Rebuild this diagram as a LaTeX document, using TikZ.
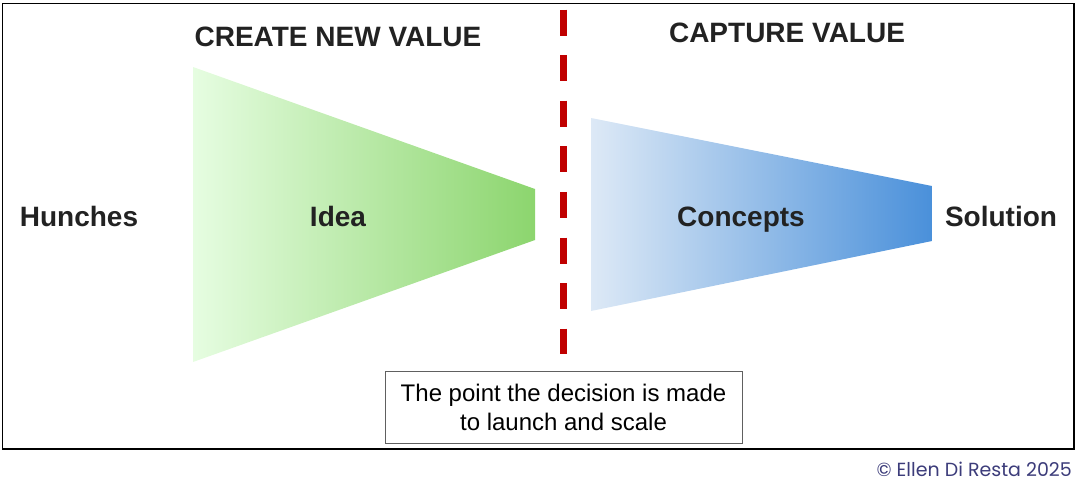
\documentclass[tikz,border=0pt]{standalone}
\usepackage{fontspec}
\setmainfont{Liberation Sans}
\newfontfamily\copyfont{Poppins}
\definecolor{lbl}{HTML}{222222}
\definecolor{gLight}{HTML}{E6FDE1}
\definecolor{gDark}{HTML}{8CD56E}
\definecolor{bLight}{HTML}{DDE9F6}
\definecolor{bDark}{HTML}{4A90DA}
\definecolor{dashred}{HTML}{C00000}
\definecolor{copyc}{HTML}{3C3C7A}
\definecolor{boxgray}{HTML}{606060}
\tikzset{
  lab/.style={font=\bfseries\fontsize{28}{32}\selectfont, text=lbl, inner sep=0pt, anchor=base},
  head/.style={font=\bfseries\fontsize{28}{32}\selectfont, text=lbl, inner sep=0pt, anchor=base},
  notebox/.style={draw=boxgray, line width=1pt, minimum width=357pt, minimum height=72pt, inner sep=0pt},
  notetext/.style={font=\fontsize{24}{29}\selectfont, align=center, inner sep=0pt, anchor=base},
}
\begin{document}
\begin{tikzpicture}[x=1pt,y=-1pt]
\useasboundingbox (0,0) rectangle (1090,498);
% frame
\draw[line width=1.6pt, black] (2.5,3.5) rectangle (1074,449);
% funnels
\shade[left color=gLight, right color=gDark] (193,67) -- (535,189) -- (535,240) -- (193,362) -- cycle;
\shade[left color=bLight, right color=bDark] (591,118) -- (932,186) -- (932,241) -- (591,311) -- cycle;
% dashed divider
\coordinate (dtop) at (563.5,9.5);
\coordinate (dbot) at (563.5,354);
\draw[dashred, line width=7pt, dash pattern=on 26pt off 19.6pt] (dtop) -- (dbot);
% headings
\node[head] (create) at (338,46) {CREATE NEW VALUE};
\node[head] (capture) at (787,42) {CAPTURE VALUE};
% labels
\node[lab] (hunches) at (79,226) {Hunches};
\node[lab] (idea) at (338,226) {Idea};
\node[lab] (concepts) at (741,226) {Concepts};
\node[lab] (solution) at (1001,226) {Solution};
% note box
\node[notebox] (note) at (563.5,407) {};
\node[notetext] (note1) at (563.5,401) {The point the decision is made};
\node[notetext] (note2) at (563.5,430) {to launch and scale};
% copyright
\node[font=\copyfont\fontsize{19}{22}\selectfont, text=copyc, anchor=base east, inner sep=0pt] (copy) at (1072,476) {© Ellen Di Resta 2025};
\end{tikzpicture}
\end{document}
